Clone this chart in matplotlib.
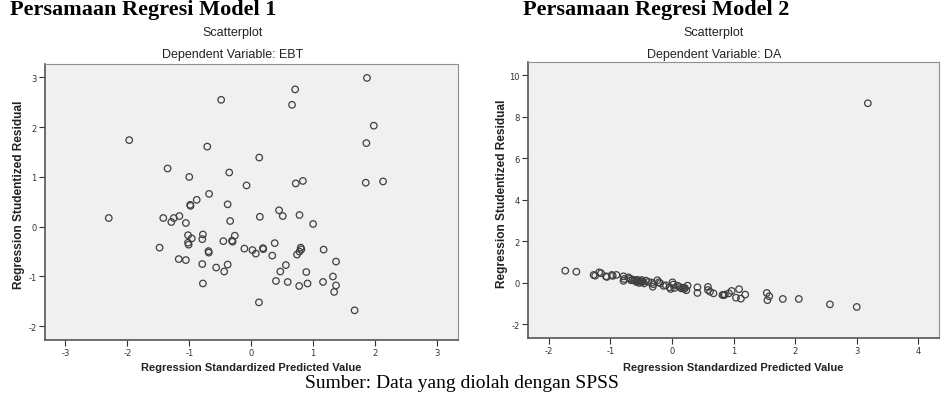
import matplotlib
matplotlib.use('Agg')
import matplotlib.pyplot as plt

plt.rcParams['axes.unicode_minus'] = False

# Model 1: dependent variable EBT
pred1 = [-0.485, -1.97, -0.71, -1.35, -0.355, -1.0, -0.075, -0.68, -0.88, -0.985,
         -0.98, -0.38, -2.30, -1.42, -1.25, -1.16, -1.29, -1.055, -0.34, -1.02,
         -0.96, -0.78, -0.79, -1.02, -1.01, -0.45, -0.31, -0.30, -0.265, -1.48,
         -0.69, -0.685, -0.11, -1.17, -1.055, -0.79, -0.565, -0.38, -0.436, -0.78,
         1.87, 0.71, 0.66, 1.98, 1.86, 0.13, 0.72, 0.835, 1.85, 2.13,
         0.14, 0.45, 0.51, 0.78, 1.0, 0.02, 0.075, 0.19, 0.195, 0.38,
         0.34, 0.80, 0.81, 0.78, 0.74, 1.17, 1.37, 0.56, 0.47, 0.89,
         1.32, 0.40, 0.59, 0.775, 0.91, 1.16, 1.37, 1.34, 0.125, 1.67]
resid1 = [2.55, 1.74, 1.61, 1.17, 1.09, 1.0, 0.83, 0.66, 0.54, 0.44,
          0.42, 0.45, 0.175, 0.175, 0.175, 0.215, 0.095, 0.075, 0.115, -0.17,
          -0.235, -0.155, -0.25, -0.32, -0.36, -0.29, -0.28, -0.30, -0.18, -0.42,
          -0.49, -0.52, -0.44, -0.65, -0.67, -0.75, -0.82, -0.76, -0.90, -1.14,
          2.99, 2.76, 2.45, 2.03, 1.68, 1.39, 0.87, 0.92, 0.885, 0.91,
          0.20, 0.33, 0.215, 0.235, 0.055, -0.47, -0.54, -0.43, -0.45, -0.33,
          -0.58, -0.42, -0.455, -0.50, -0.56, -0.46, -0.70, -0.77, -0.90, -0.91,
          -1.0, -1.09, -1.11, -1.19, -1.14, -1.11, -1.18, -1.31, -1.52, -1.68]

# Model 2: dependent variable DA
pred2 = [3.18, -1.73, -1.55, -1.27, -1.245, -1.18, -1.15, -1.07, -1.055, -0.975,
         -0.96, -0.90, -0.785, -0.775, -0.785, -0.705, -0.68, -0.665, -0.635,
         -0.60, -0.58, -0.56, -0.55, -0.53, -0.52, -0.50, -0.49, -0.47, -0.45,
         -0.42, -0.38, -0.325, -0.30, -0.31, -0.235, -0.21, -0.19, -0.135, -0.10,
         -0.04, -0.02, 0.01, 0.025, 0.04, 0.09, 0.125, 0.15, 0.18, 0.20,
         0.21, 0.235, 0.255, 0.415, 0.415, 0.585, 0.585, 0.62, 0.675,
         0.82, 0.84, 0.86, 0.925, 0.97, 1.04, 1.09, 1.12, 1.19,
         1.54, 1.58, 1.55, 1.80, 2.06, 2.565, 3.0]
resid2 = [8.65, 0.59, 0.54, 0.385, 0.35, 0.51, 0.47, 0.32, 0.29, 0.385,
          0.34, 0.385, 0.32, 0.19, 0.10, 0.27, 0.21, 0.13, 0.16,
          0.12, 0.05, 0.15, 0.08, 0.0, 0.10, 0.05, 0.14, 0.06, -0.02,
          0.11, 0.05, 0.015, -0.06, -0.18, 0.13, 0.03, -0.015, -0.14, -0.11,
          -0.21, -0.29, 0.03, -0.08, -0.24, -0.13, -0.19, -0.26, -0.23, -0.29,
          -0.24, -0.35, -0.13, -0.21, -0.48, -0.19, -0.34, -0.42, -0.50,
          -0.58, -0.59, -0.56, -0.50, -0.385, -0.71, -0.30, -0.755, -0.56,
          -0.48, -0.64, -0.83, -0.77, -0.77, -1.03, -1.155]

W, H = 949, 410
fig = plt.figure(figsize=(W / 100, H / 100), dpi=100)
fig.patch.set_facecolor('white')


def panel(rect, x, y, xlim, ylim, xticks, yticks, dep, cx, ylab_x, ylab_y):
    l, t, r, b = rect
    ax = fig.add_axes([l / W, 1 - b / H, (r - l) / W, (b - t) / H])
    ax.set_facecolor('#f0f0f0')
    ax.scatter(x, y, s=22, facecolors='none', edgecolors='#404040', linewidths=0.9, zorder=3)
    ax.set_xlim(*xlim)
    ax.set_ylim(*ylim)
    ax.set_xticks(xticks)
    ax.set_yticks(yticks)
    ax.tick_params(labelsize=6, colors='#333333', length=4, width=0.8, pad=2)
    for side in ['top', 'right']:
        ax.spines[side].set_color('#909090')
    for side in ['left', 'bottom']:
        ax.spines[side].set_color('#555555')
        ax.spines[side].set_linewidth(1.2)
    ax.set_xlabel('Regression Standardized Predicted Value', fontsize=8,
                  fontweight='bold', family='Liberation Sans', color='#222222')
    ax.set_ylabel('Regression Studentized Residual', fontsize=8.6,
                  fontweight='bold', family='Liberation Sans', color='#222222')
    ax.xaxis.label.set_va('center')
    ax.yaxis.label.set_va('center')
    bw = b - t
    ax.xaxis.set_label_coords(0.5, (b - 368) / bw)
    ax.yaxis.set_label_coords((ylab_x - l) / (r - l), (b - ylab_y) / bw)
    fig.text(cx / W, 1 - 33 / H, 'Scatterplot', ha='center', va='center',
             fontsize=9, family='Liberation Sans', color='#222222')
    fig.text(cx / W, 1 - 55 / H, 'Dependent Variable: ' + dep, ha='center', va='center',
             fontsize=9, family='Liberation Sans', color='#222222')
    return ax


panel((45, 65, 458, 340.7), pred1, resid1, (-3.33, 3.34), (-2.27, 3.27),
      [-3, -2, -1, 0, 1, 2, 3], [-2, -1, 0, 1, 2, 3], 'EBT', 233, 19, 195)
panel((528.3, 62.7, 938.7, 339), pred2, resid2, (-2.33, 4.33), (-2.65, 10.65),
      [-2, -1, 0, 1, 2, 3, 4], [-2, 0, 2, 4, 6, 8, 10], 'DA', 714, 502, 194)

# the headings sit right at the top edge, as in the source page
fig.text(10 / W, 1 - 15 / H, 'Persamaan Regresi Model 1', ha='left', va='baseline',
         fontsize=16, fontweight='bold', family='Liberation Serif')
fig.text(523 / W, 1 - 15 / H, 'Persamaan Regresi Model 2', ha='left', va='baseline',
         fontsize=16, fontweight='bold', family='Liberation Serif')
fig.text(462 / W, 1 - 388 / H, 'Sumber: Data yang diolah dengan SPSS', ha='center',
         va='baseline', fontsize=14, family='Liberation Serif')

plt.savefig('out.png', dpi=100)
